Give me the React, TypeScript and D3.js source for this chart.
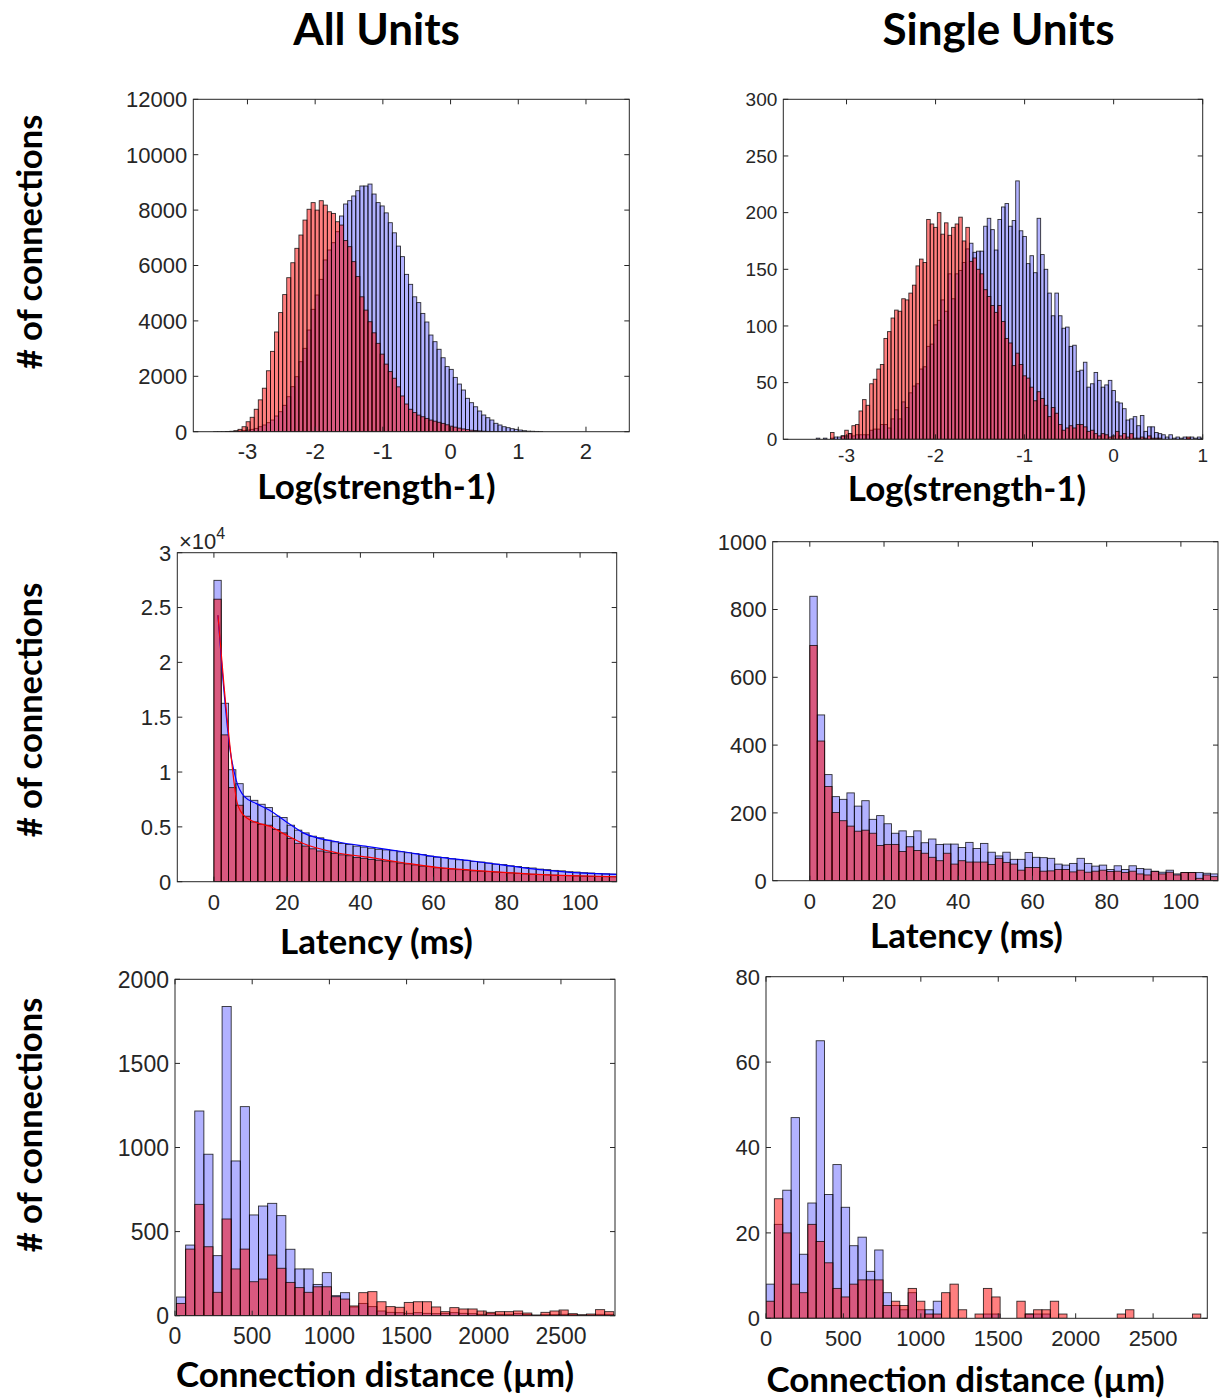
import React from 'react'
import * as d3 from 'd3'

// ---- data ----
// row 1: Log(strength-1), bins of 0.06 (all units) and 0.04 (single units)
const allStrengthStart = -3.5
const allStrengthWidth = 0.06
const allStrengthBlue = [1, 2, 3, 5, 10, 15, 25, 40, 60, 85, 120, 180, 242, 325, 422, 567, 722, 953, 1264, 1625, 1986, 2527, 3010, 3671, 4418, 4935, 5500, 6200, 6560, 6823, 7220, 7787, 8220, 8340, 8510, 8700, 8870, 8870, 8940, 8580, 8270, 8150, 7900, 7545, 7180, 6700, 6320, 5680, 5320, 4870, 4660, 4270, 3960, 3490, 3250, 2975, 2670, 2350, 2250, 1960, 1720, 1505, 1205, 1047, 900, 747, 603, 505, 422, 303, 242, 180, 145, 108, 85, 60, 36, 20, 15, 10, 5]
const allStrengthRed = [0, 0, 0, 5, 15, 36, 85, 180, 360, 520, 810, 1150, 1570, 2200, 2900, 3600, 4300, 4950, 5560, 6100, 6620, 7100, 7640, 8030, 8270, 8000, 8340, 8180, 7940, 7880, 7580, 7460, 6900, 6680, 6140, 5600, 4870, 4390, 3970, 3570, 3190, 2800, 2440, 2170, 1930, 1620, 1290, 1000, 810, 690, 600, 540, 480, 420, 380, 340, 300, 250, 200, 165, 130, 100, 75, 55, 40, 28, 18, 12, 8, 5, 3]

const singleStrengthStart = -3.7
const singleStrengthWidth = 0.04
const singleStrengthBlue = [0, 0, 0, 0, 0, 0, 0, 0, 0, 1, 0, 1, 0, 1, 2, 2, 3, 3, 5, 3, 4, 4, 4, 4, 8, 9, 9, 13, 13, 10, 18, 26, 18, 33, 28, 41, 47, 49, 62, 64, 82, 84, 101, 105, 123, 113, 146, 124, 146, 149, 156, 168, 173, 165, 166, 166, 188, 195, 185, 167, 194, 205, 208, 188, 193, 228, 184, 179, 155, 162, 147, 195, 163, 150, 129, 109, 129, 109, 98, 99, 82, 83, 60, 61, 68, 46, 49, 59, 52, 46, 48, 52, 43, 33, 32, 27, 17, 18, 20, 12, 21, 7, 11, 11, 6, 5, 4, 2, 4, 1, 2, 1, 2, 1, 2, 1, 2, 1]
const singleStrengthRed = [0, 0, 0, 0, 0, 0, 0, 0, 0, 0, 0, 0, 0, 6, 0, 0, 3, 8, 5, 12, 13, 25, 35, 30, 49, 53, 62, 66, 89, 95, 107, 114, 113, 124, 123, 129, 136, 153, 159, 156, 194, 190, 187, 200, 181, 191, 180, 187, 190, 196, 175, 187, 157, 160, 150, 146, 132, 126, 118, 112, 118, 104, 89, 85, 65, 76, 66, 56, 54, 46, 34, 42, 36, 30, 20, 28, 23, 13, 8, 10, 12, 10, 13, 13, 11, 7, 8, 5, 3, 5, 4, 2, 3, 7, 3, 5, 2, 5, 1, 1, 2, 1, 3, 1, 1, 1, 0, 0, 0, 0, 0, 0, 0, 2, 0]

// row 2: latency, 2 ms bins
const latencyStart = 0
const latencyWidth = 2
const allLatencyBlue = [27480, 16270, 10210, 8940, 7790, 7420, 7060, 6760, 5970, 5850, 5150, 4700, 4450, 4150, 4000, 3790, 3640, 3480, 3390, 3240, 3150, 3050, 2950, 2900, 2830, 2730, 2640, 2560, 2470, 2330, 2240, 2200, 2090, 2000, 1950, 1850, 1790, 1700, 1600, 1560, 1450, 1390, 1300, 1250, 1150, 1100, 1030, 990, 910, 880, 820, 790, 750, 720, 690]
const allLatencyRed = [25760, 13390, 8580, 6970, 5970, 5450, 5240, 5150, 4760, 4450, 3950, 3500, 3250, 3000, 2800, 2700, 2580, 2450, 2370, 2200, 2130, 2030, 1960, 1880, 1820, 1700, 1620, 1530, 1420, 1380, 1270, 1220, 1160, 1100, 1060, 990, 950, 920, 880, 840, 800, 760, 720, 680, 660, 630, 600, 570, 550, 530, 510, 490, 470, 460, 450]
// fitted curves (ms, count)
const allLatencyBlueFit: [number, number][] = [[1.1, 24300], [2.5, 18300], [4.3, 12300], [6.1, 9240], [8.4, 7730], [11.6, 7120], [15.2, 6510], [19.8, 5450], [24.4, 4450], [33.5, 3640], [42.6, 3180], [51.7, 2730], [60.9, 2270], [70, 1910], [79.1, 1520], [88.2, 1120], [97.3, 850], [110, 670]]
const allLatencyRedFit: [number, number][] = [[1.1, 24300], [2.8, 17700], [4.6, 11700], [6.4, 7120], [8.4, 5970], [12.5, 5300], [15.2, 5060], [19.8, 4240], [24.4, 3480], [33.5, 2640], [42.6, 2210], [51.7, 1730], [60.9, 1300], [70, 1060], [79.1, 850], [88.2, 670], [97.3, 550], [110, 450]]

const singleLatencyBlue = [839, 489, 313, 248, 240, 259, 220, 236, 181, 192, 168, 140, 147, 130, 147, 112, 123, 107, 108, 108, 98, 113, 95, 110, 84, 73, 84, 63, 63, 83, 69, 68, 66, 49, 46, 51, 66, 51, 43, 46, 33, 44, 33, 44, 36, 34, 28, 25, 31, 20, 24, 24, 24, 22, 20]
const singleLatencyRed = [694, 412, 278, 201, 177, 161, 146, 149, 140, 104, 107, 107, 86, 100, 89, 81, 69, 59, 81, 49, 59, 55, 55, 55, 48, 66, 54, 49, 31, 39, 39, 28, 29, 33, 33, 26, 31, 25, 28, 31, 27, 28, 24, 28, 20, 17, 27, 20, 25, 17, 24, 24, 7, 17, 12]

// row 3: connection distance (um)
const allDistStart = 10
const allDistWidth = 59
const allDistBlue = [111, 420, 1217, 960, 357, 1838, 920, 1243, 599, 652, 668, 595, 395, 278, 278, 186, 256, 119, 137, 52, 73, 54, 28, 20, 18, 14, 18, 14, 12, 14, 18, 14, 12, 8, 12, 8, 8, 12, 8, 2, 6, 6, 8, 6, 2, 4, 8, 8]
const allDistRed = [73, 396, 662, 410, 139, 575, 278, 396, 202, 218, 361, 282, 198, 167, 139, 172, 172, 113, 99, 58, 137, 143, 83, 54, 50, 79, 83, 83, 52, 24, 48, 40, 40, 28, 20, 24, 24, 28, 16, 4, 20, 28, 34, 12, 6, 10, 36, 24]

const singleDistStart = 0
const singleDistWidth = 54
const singleDistBlue = [8, 22, 30, 47, 15, 27, 65, 29, 36, 26, 17, 19, 11, 16, 6, 3, 2, 6, 2, 2, 4, 0, 0, 0, 0, 0, 1, 1, 0, 0, 0, 1, 1, 1, 0, 0, 0, 0, 0, 0, 0, 0, 0, 0, 0, 0, 0, 0, 0, 0, 0, 0, 0]
const singleDistRed = [4, 28, 20, 8, 6, 22, 18, 13, 7, 5, 8, 9, 9, 9, 3, 4, 3, 7, 4, 1, 1, 6, 8, 2, 0, 1, 7, 5, 0, 0, 4, 1, 2, 2, 4, 1, 0, 0, 0, 0, 0, 0, 1, 2, 0, 0, 0, 0, 0, 0, 0, 1, 0]

const strengthTicksAll = [-3, -2, -1, 0, 1, 2]
const strengthTicksSingle = [-3, -2, -1, 0, 1]
const latencyTicks = [0, 20, 40, 60, 80, 100]
const distTicks = [0, 500, 1000, 1500, 2000, 2500]

const TICK_FONT = '"Liberation Sans", Arial, Helvetica, sans-serif'
const LABEL_FONT = 'Lato, "Open Sans", sans-serif'
const AX = '#262626'

type Panel = {
  id: string
  box: [number, number, number, number]
  xDomain: [number, number]
  yDomain: [number, number]
  xTicks: number[]
  yTicks: number[]
  yFormat?: (d: number) => string
  binStart: number
  binWidth: number
  blue: number[]
  red: number[]
  blueFit?: [number, number][]
  redFit?: [number, number][]
  fs: number
  tickGap: number
  xLabel: string
  labelX: number
  labelY: number
}

const panels: Panel[] = [
  {
    id: 'p1', box: [193.3, 99.3, 629.3, 431.7], xDomain: [-3.8, 2.64], yDomain: [0, 12000],
    xTicks: strengthTicksAll, yTicks: d3.range(0, 12001, 2000),
    binStart: allStrengthStart, binWidth: allStrengthWidth, blue: allStrengthBlue, red: allStrengthRed,
    fs: 22, tickGap: 19, xLabel: 'Log(strength-1)', labelX: 376.5, labelY: 499,
  },
  {
    id: 'p2', box: [783.3, 99.3, 1202.7, 439.3], xDomain: [-3.71, 1], yDomain: [0, 300],
    xTicks: strengthTicksSingle, yTicks: d3.range(0, 301, 50),
    binStart: singleStrengthStart, binWidth: singleStrengthWidth, blue: singleStrengthBlue, red: singleStrengthRed,
    fs: 19, tickGap: 16, xLabel: 'Log(strength-1)', labelX: 967, labelY: 501,
  },
  {
    id: 'p3', box: [177.3, 552.7, 616.7, 881.7], xDomain: [-10, 110], yDomain: [0, 30000],
    xTicks: latencyTicks, yTicks: d3.range(0, 30001, 5000), yFormat: (d) => String(d / 1e4),
    binStart: latencyStart, binWidth: latencyWidth, blue: allLatencyBlue, red: allLatencyRed,
    blueFit: allLatencyBlueFit, redFit: allLatencyRedFit,
    fs: 22, tickGap: 20, xLabel: 'Latency (ms)', labelX: 376.5, labelY: 954,
  },
  {
    id: 'p4', box: [772.7, 541.7, 1218, 880.7], xDomain: [-10, 110], yDomain: [0, 1000],
    xTicks: latencyTicks, yTicks: d3.range(0, 1001, 200),
    binStart: latencyStart, binWidth: latencyWidth, blue: singleLatencyBlue, red: singleLatencyRed,
    fs: 22, tickGap: 20, xLabel: 'Latency (ms)', labelX: 966.5, labelY: 948,
  },
  {
    id: 'p5', box: [175, 979.3, 615, 1315.7], xDomain: [0, 2850], yDomain: [0, 2000],
    xTicks: distTicks, yTicks: d3.range(0, 2001, 500),
    binStart: allDistStart, binWidth: allDistWidth, blue: allDistBlue, red: allDistRed,
    fs: 23, tickGap: 20, xLabel: 'Connection distance (µm)', labelX: 375, labelY: 1387,
  },
  {
    id: 'p6', box: [766, 976.7, 1207.3, 1318.3], xDomain: [0, 2850], yDomain: [0, 80],
    xTicks: distTicks, yTicks: d3.range(0, 81, 20),
    binStart: singleDistStart, binWidth: singleDistWidth, blue: singleDistBlue, red: singleDistRed,
    fs: 22, tickGap: 20, xLabel: 'Connection distance (µm)', labelX: 965.5, labelY: 1392,
  },
]

function Histogram({ p }: { p: Panel }) {
  const [x0, y0, x1, y1] = p.box
  const x = d3.scaleLinear().domain(p.xDomain).range([x0, x1])
  const y = d3.scaleLinear().domain(p.yDomain).range([y1, y0])
  const tick = 5

  const bars = (vals: number[], fill: string, op: number) =>
    vals.map((v, i) => {
      if (!v) return null
      const a = x(p.binStart + i * p.binWidth)
      const b = x(p.binStart + (i + 1) * p.binWidth)
      return (
        <rect key={i} x={a} y={y(v)} width={b - a} height={y(0) - y(v)}
          fill={fill} fillOpacity={op} stroke="#000" strokeOpacity={0.8} strokeWidth={0.9} />
      )
    })

  const line = d3.line<[number, number]>().x((d) => x(d[0])).y((d) => y(d[1])).curve(d3.curveMonotoneX)
  const fmt = p.yFormat || ((d: number) => String(d))

  return (
    <g>
      <clipPath id={'clip-' + p.id}>
        <rect x={x0} y={y0} width={x1 - x0} height={y1 - y0} />
      </clipPath>
      <rect x={x0} y={y0} width={x1 - x0} height={y1 - y0} fill="#fff" />
      <g clipPath={`url(#clip-${p.id})`}>
        <g>{bars(p.blue, '#0000ff', 0.3)}</g>
        <g>{bars(p.red, '#ff0000', 0.5)}</g>
        {p.blueFit && <path d={line(p.blueFit) || ''} fill="none" stroke="#0000ff" strokeWidth={1.2} />}
        {p.redFit && <path d={line(p.redFit) || ''} fill="none" stroke="#ff0000" strokeWidth={1.2} />}
      </g>
      <rect x={x0} y={y0} width={x1 - x0} height={y1 - y0} fill="none" stroke={AX} strokeWidth={1} />
      {p.xTicks.map((t) => (
        <g key={'x' + t}>
          <line x1={x(t)} x2={x(t)} y1={y1} y2={y1 - tick} stroke={AX} />
          <line x1={x(t)} x2={x(t)} y1={y0} y2={y0 + tick} stroke={AX} />
          <text x={x(t)} y={y1 + p.tickGap + p.fs * 0.36} textAnchor="middle" fontSize={p.fs}
            fontFamily={TICK_FONT} fill={AX}>{String(t)}</text>
        </g>
      ))}
      {p.yTicks.map((t) => (
        <g key={'y' + t}>
          <line x1={x0} x2={x0 + tick} y1={y(t)} y2={y(t)} stroke={AX} />
          <line x1={x1} x2={x1 - tick} y1={y(t)} y2={y(t)} stroke={AX} />
          <text x={x0 - 6} y={y(t) + p.fs * 0.36} textAnchor="end" fontSize={p.fs}
            fontFamily={TICK_FONT} fill={AX}>{fmt(t)}</text>
        </g>
      ))}
      <text x={p.labelX} y={p.labelY} textAnchor="middle" fontSize={35} fontWeight={700}
        fontFamily={LABEL_FONT} fill="#000">{p.xLabel}</text>
    </g>
  )
}

export default function App() {
  const rowLabels = [242, 710, 1125]
  return (
    <div style={{ position: 'absolute', left: 0, top: 0 }}>
      <svg width={1222} height={1399} viewBox="0 0 1222 1399" style={{ display: 'block', background: '#fff' }}>
        <text x={376.5} y={45} textAnchor="middle" fontSize={44} fontWeight={700} fontFamily={LABEL_FONT}>All Units</text>
        <text x={998.5} y={45} textAnchor="middle" fontSize={44} fontWeight={700} fontFamily={LABEL_FONT}>Single Units</text>
        {rowLabels.map((cy) => (
          <text key={cy} transform={`translate(42,${cy}) rotate(-90)`} textAnchor="middle" fontSize={34.5}
            fontWeight={700} fontFamily={LABEL_FONT}># of connections</text>
        ))}
        {panels.map((p) => <Histogram key={p.id} p={p} />)}
        <text x={179} y={549} fontSize={22} fontFamily={TICK_FONT} fill={AX}>
          ×10<tspan fontSize={16} dy={-10}>4</tspan>
        </text>
      </svg>
    </div>
  )
}
